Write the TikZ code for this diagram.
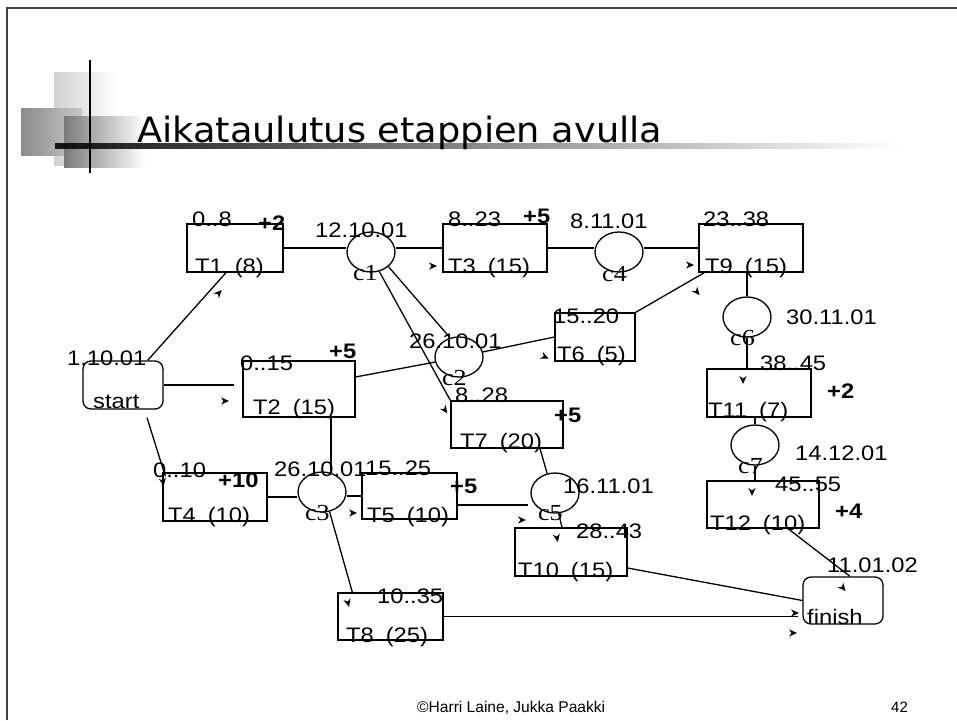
\documentclass[tikz,border=0pt]{standalone}
\usepackage{fontspec}
\setmainfont{Liberation Sans}
\newfontfamily\serifc{Liberation Serif}
\newfontfamily\titlef{DejaVu Sans}
\usetikzlibrary{calc,shapes.geometric}
\newcommand\xs[1]{\scalebox{1.13}[1]{#1}}
\newcommand\labf{\fontsize{21}{24}\selectfont}
\newcommand\cf{\serifc\fontsize{23}{26}\selectfont}
\newcommand\lb[3]{\node[lbl] (#1) at (#2) {\xs{#3}};}
\newcommand\lbb[3]{\node[lbl] (#1) at (#2) {\xs{\textbf{#3}}};}
\newcommand\lbc[3]{\node[lbl,font=\cf] (#1) at (#2) {\xs{#3}};}
\begin{document}
\begin{tikzpicture}[x=1pt,y=-1pt,
  ln/.style={line width=1.3pt},
  task/.style={draw,line width=1.3pt,rectangle,inner sep=0},
  term/.style={draw,line width=1.3pt,rectangle,rounded corners=8pt,inner sep=0,minimum width=80,minimum height=48},
  ms/.style={draw,line width=1.3pt,ellipse,inner sep=0,minimum width=48,minimum height=40},
  lbl/.style={anchor=base west,inner sep=0,font=\labf},
  ah/.pic={\fill (4,0) -- (-4,3.6) -- (-1.5,0) -- (-4,-3.6) -- cycle;}
]
\useasboundingbox (0,0) rectangle (957,720);
% slide frame
\draw[line width=2pt,black!75] (7,720) -- (7,8) -- (957,8);
% title decoration
\shade[left color=black!18,right color=white] (54,72) rectangle (118,165);
\shade[left color=black!45,right color=black!22] (21,108) rectangle (82,155);
\shade[left color=black!52,right color=white] (64,116) rectangle (145,167);
\shade[left color=black!92,right color=white] (55,143) rectangle (900,148);
\fill[black!92] (55,143) rectangle (92,148);
\draw[line width=1.6pt] (90,60) -- (90,173);
\node[anchor=base west,inner sep=0] (title) at (137,142) {\resizebox{525pt}{26.5pt}{\titlef Aikataulutus etappien avulla}};

% nodes
\node[term] (start) at (123,385) {};
\node[term,minimum height=47] (finish) at (843,600.5) {};
\node[task,minimum width=96,minimum height=48] (T1) at (235,248) {};
\node[task,minimum width=104,minimum height=48] (T3) at (495,248) {};
\node[task,minimum width=104,minimum height=48] (T9) at (751,248) {};
\node[task,minimum width=112,minimum height=56] (T2) at (299,389) {};
\node[task,minimum width=80,minimum height=48] (T6) at (595,337) {};
\node[task,minimum width=112,minimum height=47] (T7) at (507,424.5) {};
\node[task,minimum width=104,minimum height=48] (T11) at (759,393) {};
\node[task,minimum width=104,minimum height=48] (T4) at (215,497) {};
\node[task,minimum width=95,minimum height=46] (T5) at (409.5,496) {};
\node[task,minimum width=112,minimum height=47] (T12) at (763,504.5) {};
\node[task,minimum width=112,minimum height=48] (T10) at (571,552) {};
\node[task,minimum width=105,minimum height=47] (T8) at (390.5,616.5) {};
\node[ms] (c1) at (371,252) {};
\node[ms] (c2) at (459,357) {};
\node[ms] (c3) at (322,492) {};
\node[ms] (c4) at (619,252) {};
\node[ms] (c5) at (555,493) {};
\node[ms] (c6) at (747,317) {};
\node[ms] (c7) at (755,445) {};

% connectors
\draw[ln] (start.45) -- (T1.250);
\draw[ln,shorten >=8pt] (start.east) -- (start.east -| T2.west);
\draw[ln] ([xshift=24pt,yshift=-8pt]start.south) -- ([xshift=3pt,yshift=-4pt]T4.north west);
\draw[ln] (T1.east) -- (T1.east -| c1.west);
\draw[ln] (T3.west -| c1.east) -- (T3.west);
\draw[ln] (T3.east) -- (T3.east -| c4.west);
\draw[ln] (T9.west -| c4.east) -- (T9.west);
\draw[ln] (c1.-40) -- (c2.115);
\draw[ln] (c1.-67) -- (T7.north west);
\draw[ln] (T2.12) -- (c2.192);
\draw[ln] (c2.12) -- (T6.west);
\draw[ln] (T6.north east) -- ([xshift=6pt]T9.south west);
\draw[ln] (T9.south -| c6.north) -- (c6.north);
\draw[ln] (c6.south) -- (c6.south |- T11.north);
\draw[ln] (T11.south -| c7.north) -- (c7.north);
\draw[ln] (c7.south) -- (c7.south |- T12.north);
\coordinate (p23) at ([xshift=32pt]T2.south);
\draw[ln] (p23) -- (p23 |- c3.north);
\draw[ln] (T4.east) -- (T4.east -| c3.west);
\draw[ln] (T5.west -| c3.east) -- (T5.west);
\draw[ln] (c3.-69) -- ([xshift=15pt]T8.north west);
\draw[ln] ([xshift=33pt]T7.south) -- (c5.112);
\coordinate (p55) at ([yshift=-9pt]T5.east);
\draw[ln,shorten >=2pt] (p55) -- (p55 -| c5.west);
\draw[ln] (c5.-80) -- ([xshift=-9pt]T10.north);
\draw[ln] ([yshift=-16pt]T10.east) -- (finish.west);
\draw[ln,shorten >=4pt] (T8.east) -- (T8.east -| finish.west);
\draw[ln] ([xshift=25pt]T12.south) -- ([xshift=7pt]finish.north);

% detached arrowheads
\pic[rotate=47] at (219,293) {ah};
\pic at (225,401) {ah};
\pic[rotate=-80] at (163,482) {ah};
\pic at (433,266) {ah};
\pic[rotate=-25] at (545,357) {ah};
\pic[rotate=-55] at (445,410) {ah};
\pic at (690,265) {ah};
\pic[rotate=-50] at (697,292) {ah};
\pic[rotate=-90] at (743,380) {ah};
\pic[rotate=-90] at (752,492) {ah};
\pic at (353,513) {ah};
\pic[rotate=-75] at (348,603) {ah};
\pic at (522,520) {ah};
\pic[rotate=-80] at (557,538) {ah};
\pic[rotate=-50] at (843,588) {ah};
\pic at (795,613) {ah};
\pic at (793,633) {ah};

% labels
\lb{l1}{192,226}{0..8}
\lbb{l2}{258,230}{+2}
\lb{l3}{195,273}{T1\hspace{.5em}(8)}
\lb{l4}{315,237}{12.10.01}
\lbc{l5}{353,280}{c1}
\lb{l6}{448,226}{8..23}
\lbb{l7}{523,223}{+5}
\lb{l8}{448,273}{T3\hspace{.5em}(15)}
\lb{l9}{570,228}{8.11.01}
\lbc{l10}{602,281}{c4}
\lb{l11}{703,226}{23..38}
\lb{l12}{705,273}{T9\hspace{.5em}(15)}
\lb{l13}{67,365}{1.10.01}
\lb{l14}{93,408}{start}
\lb{l15}{240,370}{0..15}
\lbb{l16}{329,358}{+5}
\lb{l17}{253,414}{T2\hspace{.5em}(15)}
\lb{l18}{409,348}{26.10.01}
\lbc{l19}{442,385}{c2}
\lb{l20}{553,323}{15..20}
\lb{l21}{557,361}{T6\hspace{.5em}(5)}
\lb{l22}{455,402}{8..28}
\lbb{l23}{554,422}{+5}
\lb{l24}{460,448}{T7\hspace{.5em}(20)}
\lb{l25}{786,324}{30.11.01}
\lbc{l26}{730,345}{c6}
\lb{l27}{760,370}{38..45}
\lbb{l28}{827,398}{+2}
\lb{l29}{708,417}{T11\hspace{.5em}(7)}
\lb{l30}{795,460}{14.12.01}
\lbc{l31}{738,473}{c7}
\lb{l32}{153,477}{0..10}
\lbb{l33}{218,487}{+10}
\lb{l34}{168,522}{T4\hspace{.5em}(10)}
\lb{l35}{274,476}{26.10.01}
\lbc{l36}{305,520}{c3}
\lb{l37}{365,475}{15..25}
\lbb{l38}{450,493}{+5}
\lb{l39}{367,522}{T5\hspace{.5em}(10)}
\lb{l40}{563,493}{16.11.01}
\lbc{l41}{538,520}{c5}
\lb{l42}{775,491}{45..55}
\lbb{l43}{835,518}{+4}
\lb{l44}{710,530}{T12\hspace{.5em}(10)}
\lb{l45}{576,538}{28..43}
\lb{l46}{518,577}{T10\hspace{.5em}(15)}
\lb{l47}{377,603}{10..35}
\lb{l48}{346,642}{T8\hspace{.5em}(25)}
\lb{l49}{827,572}{11.01.02}
\lb{l50}{807,624}{finish}

% footer
\node[anchor=base west,inner sep=0] (foot) at (417,712) {\resizebox{188pt}{!}{\fontsize{14}{16}\selectfont ©Harri Laine, Jukka Paakki}};
\node[anchor=base west,inner sep=0,font=\fontsize{15}{17}\selectfont] (page) at (891,712) {42};
\end{tikzpicture}
\end{document}
